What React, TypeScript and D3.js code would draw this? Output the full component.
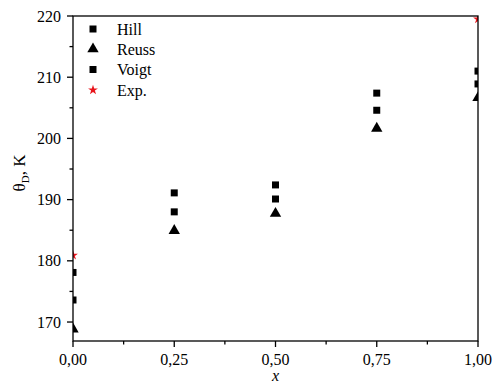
import React from "react";
import * as d3 from "d3";

const xs = [0, 0.25, 0.5, 0.75, 1.0];
const voigt = [178.1, 191.1, 192.4, 207.4, 211.0];
const hill = [173.6, 188.0, 190.1, 204.6, 208.9];
const reuss = [169.0, 185.1, 187.9, 201.8, 206.8];
const expX = [0, 1.0];
const expY = [180.9, 219.5];
const xTicks = [0, 0.25, 0.5, 0.75, 1.0];
const xTickLabels = ["0,00", "0,25", "0,50", "0,75", "1,00"];
const yTicks = [170, 180, 190, 200, 210, 220];
const legendLabels = ["Hill", "Reuss", "Voigt", "Exp."];

const W = 493, H = 385;
const L = 73, R = 478, T = 16, B = 341;
const FONT = "'Liberation Serif', 'Times New Roman', serif";

export default function App() {
  const x = d3.scaleLinear().domain([0, 1]).range([L, R]);
  const y = d3.scaleLinear().domain([166.9, 220]).range([B, T]);
  const sq = d3.symbol().type(d3.symbolSquare).size(49)();
  const tri = d3.symbol().type(d3.symbolTriangle).size(56)();
  const star = d3.symbol().type(d3.symbolStar).size(30)();

  const xMinor = d3.range(0.125, 1, 0.25);
  const yMinor = d3.range(175, 220, 10);

  const legendMarks = [
    { p: sq, c: "#000" },
    { p: tri, c: "#000" },
    { p: sq, c: "#000" },
    { p: star, c: "#e8141b" },
  ];
  const legendY = [29, 49, 69.5, 90];

  return (
    <svg width={W} height={H} style={{ position: "absolute", left: 0, top: 0, background: "#fff" }}>
      <defs>
        <clipPath id="plot">
          <rect x={L} y={T} width={R - L} height={B - T} />
        </clipPath>
      </defs>
      <rect x={0} y={0} width={W} height={H} fill="#fff" />
      <g clipPath="url(#plot)">
        {xs.map((v, i) => (
          <path key={"v" + i} d={sq} transform={`translate(${x(v)},${y(voigt[i])})`} fill="#000" />
        ))}
        {xs.map((v, i) => (
          <path key={"h" + i} d={sq} transform={`translate(${x(v)},${y(hill[i])})`} fill="#000" />
        ))}
        {xs.map((v, i) => (
          <path key={"r" + i} d={tri} transform={`translate(${x(v)},${y(reuss[i]) + 1})`} fill="#000" />
        ))}
        {expX.map((v, i) => (
          <path key={"e" + i} d={star} transform={`translate(${x(v)},${y(expY[i])})`} fill="#e8141b" />
        ))}
      </g>
      <rect x={L} y={T} width={R - L} height={B - T} fill="none" stroke="#000" strokeWidth={1.3} />
      {xTicks.map((t, i) => (
        <g key={"xt" + i}>
          <line x1={x(t)} x2={x(t)} y1={B} y2={B + 6} stroke="#000" strokeWidth={1.3} />
          <text x={x(t)} y={365} textAnchor="middle" fontFamily={FONT} fontSize={16} fill="#000">
            {xTickLabels[i]}
          </text>
        </g>
      ))}
      {xMinor.map((t, i) => (
        <line key={"xm" + i} x1={x(t)} x2={x(t)} y1={B} y2={B + 3.5} stroke="#000" strokeWidth={1.3} />
      ))}
      {yTicks.map((t, i) => (
        <g key={"yt" + i}>
          <line x1={L - 6} x2={L} y1={y(t)} y2={y(t)} stroke="#000" strokeWidth={1.3} />
          <text x={61} y={y(t) + 5.5} textAnchor="end" fontFamily={FONT} fontSize={16} fill="#000">
            {t}
          </text>
        </g>
      ))}
      {yMinor.map((t, i) => (
        <line key={"ym" + i} x1={L - 3.5} x2={L} y1={y(t)} y2={y(t)} stroke="#000" strokeWidth={1.3} />
      ))}
      <text x={x(0.5)} y={381} textAnchor="middle" fontFamily={FONT} fontSize={16} fontStyle="italic" fill="#000">
        x
      </text>
      <text transform={`translate(25,173) rotate(-90)`} textAnchor="middle" fontFamily={FONT} fontSize={17} fill="#000">
        θ<tspan fontSize={11} dy={4}>D</tspan>
        <tspan dy={-4}>, K</tspan>
      </text>
      {legendLabels.map((lab, i) => (
        <g key={"lg" + i}>
          <path d={legendMarks[i].p} transform={`translate(93,${legendY[i]})`} fill={legendMarks[i].c} />
          <text x={117} y={legendY[i] + 5.5} fontFamily={FONT} fontSize={16} fill="#000">
            {lab}
          </text>
        </g>
      ))}
    </svg>
  );
}
